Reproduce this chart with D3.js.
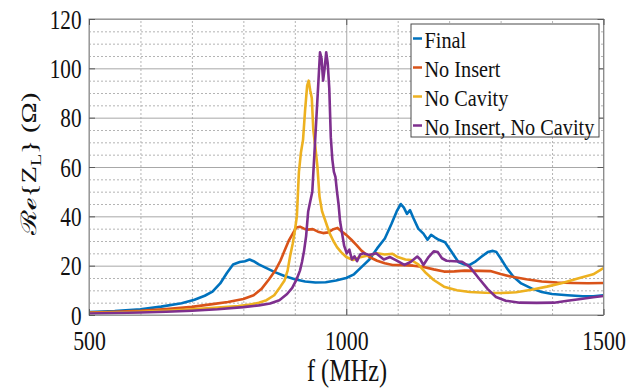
<!DOCTYPE html>
<html>
<head>
<meta charset="utf-8">
<script src="https://cdn.jsdelivr.net/npm/d3@7"></script>
<style>
  html, body { margin: 0; padding: 0; background: #fff; }
  svg { display: block; }
</style>
</head>
<body>
<script>
// ---------------- data ----------------
const seriesNames = ["Final", "No Insert", "No Cavity", "No Insert, No Cavity"];
const xTicks = [500, 1000, 1500];
const yTicks = [0, 20, 40, 60, 80, 100, 120];

const freqFinal = [500,550,600,640,680,705,725,740,755,768,780,793,803,812,820,830,845,860,880,900,920,940,960,980,1000,1015,1030,1045,1060,1075,1088,1098,1106,1112,1118,1124,1130,1140,1150,1158,1165,1172,1180,1192,1205,1218,1230,1240,1250,1262,1275,1285,1292,1300,1312,1325,1340,1360,1380,1400,1430,1460,1480,1500];
const reFinal   = [1.2,1.6,2.3,3.4,4.8,6.2,7.8,9.5,12.8,17,20.5,21.5,21.8,22.5,21.8,20.5,19,17.5,15.8,14.5,13.6,13.2,13.3,14.0,15.0,16.5,19.5,22.5,27,31,37,42,45,43.5,41,42.5,39.5,35,33,30.5,32.5,31.5,30.5,29.5,25.5,21.5,20.5,20.3,21.5,23.5,25.5,26,25.5,23,19,15.5,12.8,10.8,9.3,8.5,8.0,7.6,7.6,8.0];

const freqNoInsert = [500,550,600,650,700,740,770,800,820,835,850,862,872,880,888,896,903,910,918,925,935,945,955,965,975,983,990,1000,1010,1020,1030,1045,1060,1075,1090,1110,1130,1150,1170,1190,1210,1230,1260,1280,1300,1320,1350,1380,1410,1440,1470,1500];
const reNoInsert   = [1.0,1.3,1.7,2.4,3.3,4.4,5.3,6.5,8.0,10.5,14.5,18,22,26,30,33,35.5,35.8,35,34.6,34.8,33.8,33.2,33.5,34.8,35.3,34,32.5,30.5,28.3,26,23.5,22,21,20.3,20.2,20,19.5,18.5,17.6,17.7,18,17.9,17.8,16.6,15.6,14.5,13.6,13.2,13,12.9,13.0];

const freqNoCavity = [500,550,600,650,700,750,790,813,830,845,860,872,880,886,891,896,900,904,908,912,916,920,924,927,930,933,936,940,944,948,953,958,963,968,975,982,990,1000,1013,1025,1040,1060,1075,1090,1100,1115,1126,1140,1155,1170,1190,1215,1240,1270,1300,1330,1360,1390,1420,1450,1480,1500];
const reNoCavity   = [0.8,1.0,1.3,1.7,2.3,3.0,3.6,4.2,5,6,8,11.5,14,18,24,29,34,40,58,66,71,83,93,95,91,88,75,68,60,48,42,39,36,33,30,27.5,25.5,23.5,22.3,23.3,24,25,24.5,24.8,23.5,22.5,22.3,20.5,17,14.2,11.5,10,9.3,9.0,8.9,9.2,10.2,11.5,13,14.8,16.5,19.0];

const freqNoInsertNoCavity = [500,550,600,650,700,750,800,830,852,870,885,895,903,910,914,918,922,926,930,934,938,942,946,949,952,955,958,961,964,967,970,973,976,979,982,985,988,992,996,1001,1006,1011,1016,1021,1027,1033,1045,1058,1073,1085,1100,1113,1125,1138,1144,1150,1160,1170,1178,1186,1195,1210,1225,1240,1258,1275,1291,1310,1337,1370,1404,1430,1456,1480,1500];
const reNoInsertNoCavity   = [0.6,0.8,1.0,1.3,1.7,2.3,3.2,3.9,4.7,6,8.5,11,14.2,18,21.5,26,32,42,46,50,65,80,95,106.5,104,95,100,106.5,102,92,72,63,58,56,50,45,38,33,28,25,26.5,22.5,23.8,21.8,24.5,25,24.3,25,22.5,23.5,21.8,20.3,21.5,23.7,22.5,20.3,23.5,25.8,25.5,23,22,21.8,21.6,19.5,14.8,10.5,7.3,5.8,5.0,4.9,5.0,5.8,6.5,7.2,7.7];

const colors = ["#0072BD", "#D95319", "#EDB120", "#7E2F8E"];
const FONT = "'Liberation Serif'";

// ---------------- layout ----------------
const W = 627, H = 388;
const L = 89, R = 603.5, T = 19, B = 315;

const svg = d3.select("body").append("svg").attr("width", W).attr("height", H);

const x = d3.scaleLinear().domain([500, 1500]).range([L, R]);
const y = d3.scaleLinear().domain([0, 120]).range([B, T]);

// minor grid
const xMinor = d3.range(600, 1500, 100).filter(v => v !== 1000);
const yMinor = d3.range(5, 120, 5).filter(v => v % 20 !== 0);

svg.append("g").attr("transform", `translate(0,${B})`)
  .call(d3.axisBottom(x).tickValues(xMinor).tickSize(-(B - T)).tickFormat(""))
  .call(g => g.select(".domain").remove())
  .selectAll("line").attr("stroke", "#b4b4b4").attr("stroke-dasharray", "2,2");

svg.append("g").attr("transform", `translate(${L},0)`)
  .call(d3.axisLeft(y).tickValues(yMinor).tickSize(-(R - L)).tickFormat(""))
  .call(g => g.select(".domain").remove())
  .selectAll("line").attr("stroke", "#b4b4b4").attr("stroke-dasharray", "2,2");

// major grid
svg.append("g").attr("transform", `translate(0,${B})`)
  .call(d3.axisBottom(x).tickValues(xTicks).tickSize(-(B - T)).tickFormat(""))
  .call(g => g.select(".domain").remove())
  .selectAll("line").attr("stroke", "#a8a8a8");

svg.append("g").attr("transform", `translate(${L},0)`)
  .call(d3.axisLeft(y).tickValues(yTicks).tickSize(-(R - L)).tickFormat(""))
  .call(g => g.select(".domain").remove())
  .selectAll("line").attr("stroke", "#a8a8a8");

// series lines
const freqs = [freqFinal, freqNoInsert, freqNoCavity, freqNoInsertNoCavity];
const vals = [reFinal, reNoInsert, reNoCavity, reNoInsertNoCavity];
const line = d3.line().x(d => x(d[0])).y(d => y(d[1]));

svg.append("clipPath").attr("id", "plotclip")
  .append("rect").attr("x", L).attr("y", T).attr("width", R - L).attr("height", B - T);

const linesG = svg.append("g").attr("clip-path", "url(#plotclip)");
seriesNames.forEach((name, i) => {
  const pts = freqs[i].map((f, j) => [f, vals[i][j]]);
  linesG.append("path").datum(pts)
    .attr("fill", "none").attr("stroke", colors[i])
    .attr("stroke-width", 2.6).attr("stroke-linejoin", "round")
    .attr("d", line);
});

// box
svg.append("rect").attr("x", L).attr("y", T).attr("width", R - L).attr("height", B - T)
  .attr("fill", "none").attr("stroke", "#8c8c8c").attr("stroke-width", 1);

// axes (ticks inside)
const tickCol = "#5a5a5a";
const xAxis = svg.append("g").attr("transform", `translate(0,${B})`)
  .call(d3.axisBottom(x).tickValues(xTicks).tickFormat(d3.format("d"))
    .tickSizeInner(-6).tickSizeOuter(0).tickPadding(15));
xAxis.attr("font-family", null).attr("font-size", null);
xAxis.select(".domain").remove();
xAxis.selectAll("line").attr("stroke", tickCol);
xAxis.selectAll("text")
  .style("font-family", FONT).style("font-size", "28px").attr("fill", "#111")
  .attr("textLength", d => String(d).length * 10.9).attr("lengthAdjust", "spacingAndGlyphs");

const yAxis = svg.append("g").attr("transform", `translate(${L},0)`)
  .call(d3.axisLeft(y).tickValues(yTicks).tickFormat(d3.format("d"))
    .tickSizeInner(-6).tickSizeOuter(0).tickPadding(7.5));
yAxis.attr("font-family", null).attr("font-size", null);
yAxis.select(".domain").remove();
yAxis.selectAll("line").attr("stroke", tickCol);
yAxis.selectAll("text")
  .style("font-family", FONT).style("font-size", "28px").attr("fill", "#111")
  .attr("dy", "0.33em")
  .attr("textLength", d => String(d).length * 10.6).attr("lengthAdjust", "spacingAndGlyphs");

// mirrored ticks top/right
const topAx = svg.append("g").attr("transform", `translate(0,${T})`)
  .call(d3.axisTop(x).tickValues(xTicks).tickSizeInner(-6).tickSizeOuter(0).tickFormat(""));
topAx.select(".domain").remove();
topAx.selectAll("line").attr("stroke", tickCol);
const rightAx = svg.append("g").attr("transform", `translate(${R},0)`)
  .call(d3.axisRight(y).tickValues(yTicks).tickSizeInner(-6).tickSizeOuter(0).tickFormat(""));
rightAx.select(".domain").remove();
rightAx.selectAll("line").attr("stroke", tickCol);

// axis labels
svg.append("text")
  .style("font-family", FONT).style("font-size", "32px")
  .attr("x", 347).attr("y", 381).attr("fill", "#111")
  .attr("text-anchor", "middle")
  .attr("textLength", 80).attr("lengthAdjust", "spacingAndGlyphs")
  .text("f (MHz)");

const yl = svg.append("g").attr("transform", "translate(36,164) scale(0.74,1) rotate(-90)")
  .append("text").style("font-family", FONT).style("font-size", "29px").attr("fill", "#111")
  .attr("text-anchor", "middle")
  .attr("textLength", 143).attr("lengthAdjust", "spacingAndGlyphs");
yl.append("tspan").text("ℛℯ{Z");
yl.append("tspan").style("font-size", "20px").attr("dy", 7).text("L");
yl.append("tspan").attr("dy", -7).text("} (Ω)");

// legend
const lg = svg.append("g");
lg.append("rect").attr("x", 411).attr("y", 24).attr("width", 188).attr("height", 113)
  .attr("fill", "#fff").attr("stroke", "#4a4a4a").attr("stroke-width", 1);
seriesNames.forEach((name, i) => {
  const cy = 38.5 + i * 29;
  lg.append("line").attr("x1", 413).attr("x2", 422).attr("y1", cy).attr("y2", cy)
    .attr("stroke", colors[i]).attr("stroke-width", 2.5);
  const t = lg.append("text").style("font-family", FONT).style("font-size", "23px")
    .attr("fill", "#111")
    .attr("x", 424.5).attr("y", cy + 9.4).text(name);
  const w = t.node().getComputedTextLength();
  t.attr("textLength", w * 0.88).attr("lengthAdjust", "spacingAndGlyphs");
});
</script>
</body>
</html>
